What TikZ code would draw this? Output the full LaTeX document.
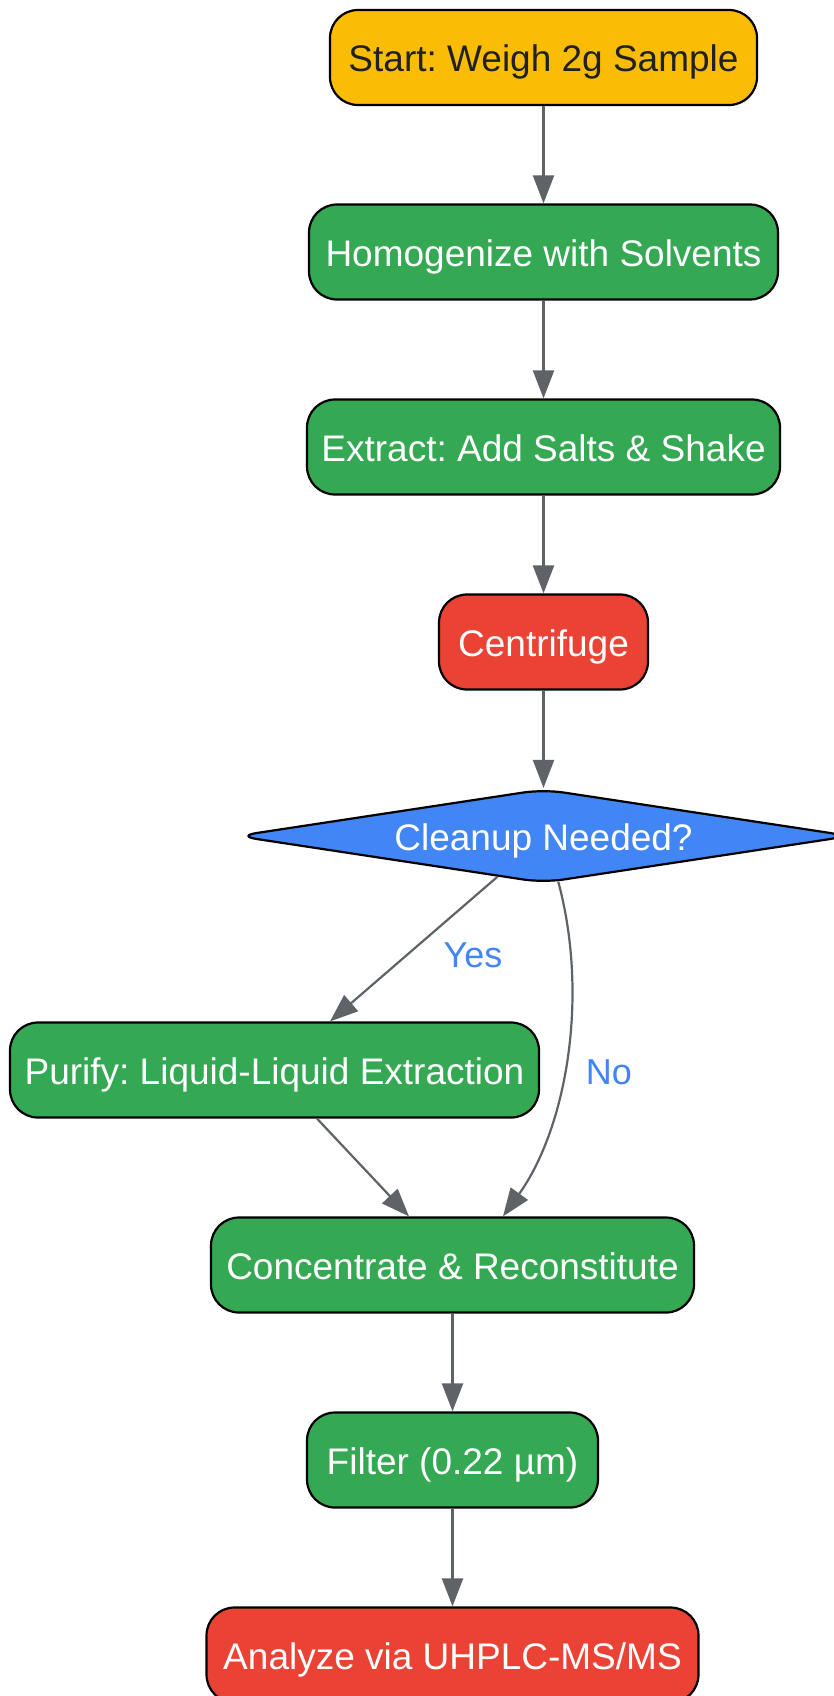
\documentclass[tikz,border=0pt]{standalone}
\usepackage{fontspec}
\setmainfont{Liberation Sans}
\usetikzlibrary{arrows.meta,shapes.geometric,calc}
\definecolor{gyellow}{HTML}{FBBC05}
\definecolor{ggreen}{HTML}{34A853}
\definecolor{gred}{HTML}{EA4335}
\definecolor{gblue}{HTML}{4285F4}
\definecolor{darktext}{HTML}{202124}
\definecolor{edgegray}{HTML}{5F6368}
\frenchspacing
\begin{document}
\begin{tikzpicture}[x=1pt,y=-1pt,
  box/.style={draw=black, line width=2.2pt, rounded corners=28pt, minimum height=95pt, inner sep=0pt, font=\fontsize{37}{44}\selectfont, text=white, text height=28pt, text depth=0pt},
  arr/.style={draw=edgegray, line width=2.2pt, -{Triangle[length=28pt,width=21pt]}},
  lbl/.style={text=gblue, font=\fontsize{36}{43}\selectfont}]
\fill[white] (0,0) rectangle (833,1696);
\useasboundingbox (0,0) rectangle (833,1696);

\node[box, fill=gyellow, text=darktext, minimum width=427pt] (start) at (543.5,57.5) {Start: Weigh 2g Sample};
\node[box, fill=ggreen, minimum width=469pt] (homog) at (543.5,252) {Homogenize with Solvents};
\node[box, fill=ggreen, minimum width=473pt] (extract) at (543.5,447) {Extract: Add Salts \& Shake};
\node[box, fill=gred, minimum width=209pt] (centri) at (543.5,642) {Centrifuge};
\node[diamond, draw=black, line width=2.2pt, fill=gblue, rounded corners=20pt, minimum width=614pt, minimum height=94pt, inner sep=0pt, aspect=6.5, font=\fontsize{37}{44}\selectfont, text=white, text height=28pt, text depth=0pt] (dec) at (543.5,836) {Cleanup Needed?};
\node[box, fill=ggreen, minimum width=529pt] (purify) at (274.5,1070) {Purify: Liquid-Liquid Extraction};
\node[box, fill=ggreen, minimum width=483pt] (conc) at (452.5,1265) {Concentrate \& Reconstitute};
\node[box, fill=ggreen, minimum width=291pt] (filter) at (452.5,1460) {Filter (0.22 µm)};
\node[box, fill=gred, minimum width=492pt] (analyze) at (452.5,1655) {Analyze via UHPLC-MS/MS};

\draw[arr] (start) -- (homog);
\draw[arr] (homog) -- (extract);
\draw[arr] (extract) -- (centri);
\draw[arr] (centri) -- (dec);
\coordinate (yesS) at ($(dec.south)!0.15!(dec.west)$);
\coordinate (noS) at ($(dec.south)!0.048!(dec.east)$);
\draw[arr] (yesS) -- ([xshift=55.5pt]purify.north);
\draw[arr] (noS) .. controls (590,1000) and (565,1130) .. ([xshift=50.5pt]conc.north);
\draw[arr] ([xshift=42.5pt]purify.south) -- ([xshift=-43.5pt]conc.north);
\draw[arr] (conc) -- (filter);
\draw[arr] (filter) -- (analyze);

\node[lbl] (yes) at (473,955) {Yes};
\node[lbl] (no) at (609,1072) {No};
\end{tikzpicture}
\end{document}
